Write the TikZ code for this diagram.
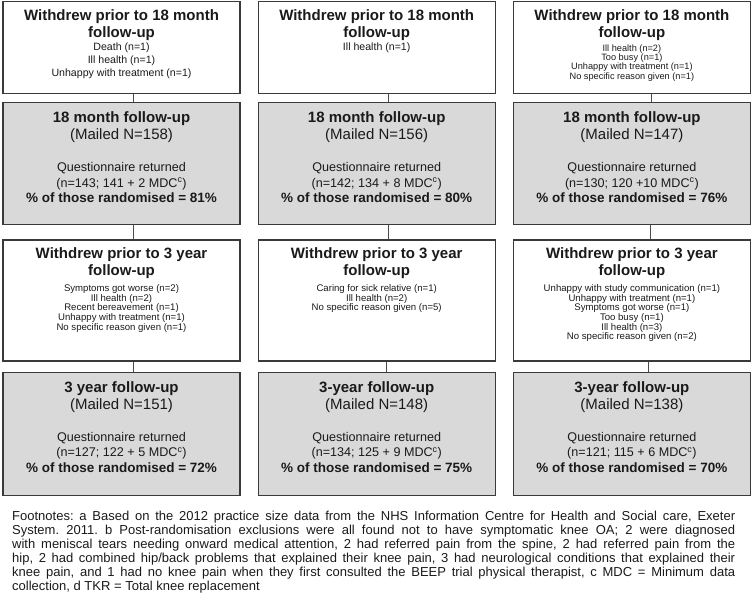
\documentclass[tikz,border=0pt]{standalone}
\usepackage{fontspec}
\setmainfont{Liberation Sans}
\usepackage{xcolor}
\usepackage{tikz}
\usetikzlibrary{positioning}
\definecolor{boxline}{HTML}{3A3A3A}
\definecolor{boxfill}{HTML}{D9D9D9}
\definecolor{ink}{HTML}{1A1A1A}
\definecolor{wire}{HTML}{4A4A4A}
\newcommand{\ttlfont}{\normalfont\fontsize{15}{17}\selectfont\bfseries}
\newcommand{\mailfont}{\normalfont\fontsize{15}{17}\selectfont}
\newcommand{\retfont}{\normalfont\fontsize{12.6}{15.5}\selectfont}
\newcommand{\pctfont}{\normalfont\fontsize{13.5}{15.5}\selectfont\bfseries}
\newcommand{\whyfont}{\normalfont\fontsize{10.6}{13}\selectfont}
\newcommand{\whysmall}{\normalfont\fontsize{9.2}{9.3}\selectfont}
\newcommand{\whythree}{\normalfont\fontsize{9.6}{9.7}\selectfont}
\newcommand{\cellbox}[3]{\parbox[t][#1][t]{237pt}{\centering\vspace*{#2}#3\par}}
\tikzset{
  withdrew/.style = {rectangle, draw=boxline, line width=1.2pt, fill=white,
                     inner sep=0pt, text=ink},
  followup/.style = {withdrew, fill=boxfill},
  note/.style     = {inner sep=0pt, text width=723pt, align=justify, text=ink,
                     font=\fontsize{13}{14}\selectfont\frenchspacing},
  link/.style     = {draw=wire, line width=1pt},
}
\begin{document}
\begin{tikzpicture}[x=1pt, y=1pt]
  \useasboundingbox (0,0) rectangle (751,-605);

  % withdrawals before 18 months
  \node[withdrew, anchor=north] (w18a) at (121.5,-1)
       {\cellbox{92pt}{8pt}{\ttlfont Withdrew prior to 18 month\\ follow-up\par
        \whyfont Death (n=1)\\ Ill health (n=1)\\ Unhappy with treatment (n=1)}};
  \node[withdrew, right=17pt of w18a] (w18b)
       {\cellbox{92pt}{8pt}{\ttlfont Withdrew prior to 18 month\\ follow-up\par
        \whyfont Ill health (n=1)}};
  \node[withdrew, right=17pt of w18b] (w18c)
       {\cellbox{92pt}{8pt}{\ttlfont Withdrew prior to 18 month\\ follow-up\par
        \vspace{3pt}\whysmall Ill health (n=2)\\ Too busy (n=1)\\
        Unhappy with treatment (n=1)\\ No specific reason given (n=1)}};

  % 18 month follow-up
  \node[followup, below=8pt of w18a] (f18a)
       {\cellbox{122pt}{9pt}{\ttlfont 18 month follow-up\par \mailfont (Mailed N=158)\par
        \vspace{16.5pt}\retfont Questionnaire returned\\ (n=143; 141 + 2 MDC\textsuperscript{c})\par
        \pctfont \% of those randomised = 81\%}};
  \node[followup, below=8pt of w18b] (f18b)
       {\cellbox{122pt}{9pt}{\ttlfont 18 month follow-up\par \mailfont (Mailed N=156)\par
        \vspace{16.5pt}\retfont Questionnaire returned\\ (n=142; 134 + 8 MDC\textsuperscript{c})\par
        \pctfont \% of those randomised = 80\%}};
  \node[followup, below=8pt of w18c] (f18c)
       {\cellbox{122pt}{9pt}{\ttlfont 18 month follow-up\par \mailfont (Mailed N=147)\par
        \vspace{16.5pt}\retfont Questionnaire returned\\ (n=130; 120 +10 MDC\textsuperscript{c})\par
        \pctfont \% of those randomised = 76\%}};

  % withdrawals before 3 years
  \node[withdrew, below=14pt of f18a] (w3a)
       {\cellbox{121pt}{8pt}{\ttlfont Withdrew prior to 3 year\\ follow-up\par
        \vspace{4.5pt}\whythree Symptoms got worse (n=2)\\ Ill health (n=2)\\
        Recent bereavement (n=1)\\ Unhappy with treatment (n=1)\\ No specific reason given (n=1)}};
  \node[withdrew, below=14pt of f18b] (w3b)
       {\cellbox{121pt}{8pt}{\ttlfont Withdrew prior to 3 year\\ follow-up\par
        \vspace{4.5pt}\whythree Caring for sick relative (n=1)\\ Ill health (n=2)\\
        No specific reason given (n=5)}};
  \node[withdrew, below=14pt of f18c] (w3c)
       {\cellbox{121pt}{8pt}{\ttlfont Withdrew prior to 3 year\\ follow-up\par
        \vspace{4.5pt}\whythree Unhappy with study communication (n=1)\\ Unhappy with treatment (n=1)\\
        Symptoms got worse (n=1)\\ Too busy (n=1)\\ Ill health (n=3)\\ No specific reason given (n=2)}};

  % 3 year follow-up
  \node[followup, below=10pt of w3a] (f3a)
       {\cellbox{123pt}{9pt}{\ttlfont 3 year follow-up\par \mailfont (Mailed N=151)\par
        \vspace{16.5pt}\retfont Questionnaire returned\\ (n=127; 122 + 5 MDC\textsuperscript{c})\par
        \pctfont \% of those randomised = 72\%}};
  \node[followup, below=10pt of w3b] (f3b)
       {\cellbox{123pt}{9pt}{\ttlfont 3-year follow-up\par \mailfont (Mailed N=148)\par
        \vspace{16.5pt}\retfont Questionnaire returned\\ (n=134; 125 + 9 MDC\textsuperscript{c})\par
        \pctfont \% of those randomised = 75\%}};
  \node[followup, below=10pt of w3c] (f3c)
       {\cellbox{123pt}{9pt}{\ttlfont 3-year follow-up\par \mailfont (Mailed N=138)\par
        \vspace{16.5pt}\retfont Questionnaire returned\\ (n=121; 115 + 6 MDC\textsuperscript{c})\par
        \pctfont \% of those randomised = 70\%}};

  \draw[link] ([xshift=11.5pt]w18a.south) -- ([xshift=11.5pt]f18a.north);
  \draw[link] ([xshift=11.5pt]w18b.south) -- ([xshift=11.5pt]f18b.north);
  \draw[link] ([xshift=20pt]w18c.south) -- ([xshift=20pt]f18c.north);
  \draw[link] ([xshift=11.5pt]f18a.south) -- ([xshift=11.5pt]w3a.north);
  \draw[link] ([xshift=11.5pt]f18b.south) -- ([xshift=11.5pt]w3b.north);
  \draw[link] ([xshift=18.5pt]f18c.south) -- ([xshift=18.5pt]w3c.north);
  \draw[link] ([xshift=11.5pt]w3a.south) -- ([xshift=11.5pt]f3a.north);
  \draw[link] ([xshift=10pt]w3b.south) -- ([xshift=10pt]f3b.north);
  \draw[link] ([xshift=17pt]w3c.south) -- ([xshift=17pt]f3c.north);

  \node[note, anchor=north west] (foot) at (12,-511)
       {Footnotes: a Based on the 2012 practice size data from the NHS Information Centre for Health and Social care, Exeter\linebreak
        System. 2011. b Post-randomisation exclusions were all found not to have symptomatic knee OA; 2 were diagnosed\linebreak
        with meniscal tears needing onward medical attention, 2 had referred pain from the spine, 2 had referred pain from the\linebreak
        hip, 2 had combined hip/back problems that explained their knee pain, 3 had neurological conditions that explained their\linebreak
        knee pain, and 1 had no knee pain when they first consulted the BEEP trial physical therapist, c MDC = Minimum data\linebreak
        collection, d TKR = Total knee replacement};
\end{tikzpicture}
\end{document}
